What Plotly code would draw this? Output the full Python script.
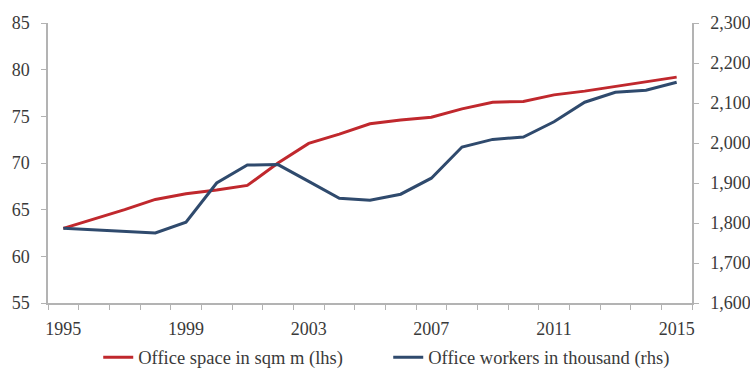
import plotly.graph_objects as go

years = list(range(1995, 2016))
office_space = [63.0, 64.0, 65.0, 66.1, 66.7, 67.1, 67.6, 70.0, 72.1, 73.1, 74.2, 74.6, 74.9,
                75.8, 76.5, 76.6, 77.3, 77.7, 78.2, 78.7, 79.2]
office_workers = [1787, 1783, 1779, 1775, 1802, 1900, 1945, 1946, 1904, 1862, 1857, 1872, 1912,
                  1990, 2009, 2015, 2053, 2102, 2127, 2132, 2152]
x_tick_labels = [1995, 1999, 2003, 2007, 2011, 2015]
boundaries = [y - 0.5 for y in range(1995, 2017)]

RED = "#C0282D"
BLUE = "#2F4A6D"
AXIS = "#B3B3B3"
TXT = "#3a3a3a"
FONT = "Liberation Serif"

fig = go.Figure()
fig.add_trace(go.Scatter(x=years, y=office_space, name="Office space in sqm m (lhs)",
                         mode="lines", line=dict(color=RED, width=3), yaxis="y"))
fig.add_trace(go.Scatter(x=years, y=office_workers, name="Office workers in thousand (rhs)",
                         mode="lines", line=dict(color=BLUE, width=3), yaxis="y2"))

fig.update_layout(
    width=750, height=371,
    margin=dict(l=48, r=58, t=23, b=68, autoexpand=False),
    paper_bgcolor="white", plot_bgcolor="white",
    font=dict(family=FONT, size=18, color=TXT),
    showlegend=True,
    legend=dict(orientation="h", x=0.078, xanchor="left", y=-0.195, yanchor="middle",
                font=dict(family=FONT, size=18.5, color=TXT),
                entrywidth=245, entrywidthmode="pixels", itemwidth=30,
                borderwidth=0, bgcolor="rgba(0,0,0,0)"),
    xaxis=dict(range=[1994.5, 2015.5], tickvals=x_tick_labels, ticktext=[str(v) for v in x_tick_labels],
               ticks="outside", ticklen=9, tickcolor="rgba(0,0,0,0)",
               showline=True, linecolor=AXIS, linewidth=1.5, showgrid=False, zeroline=False,
               minor=dict(tickvals=boundaries, ticks="outside", ticklen=5, tickcolor=AXIS, tickwidth=1),
               tickfont=dict(family=FONT, size=18, color=TXT)),
    yaxis=dict(range=[55, 85], dtick=5, tick0=55, ticks="outside", ticklen=5, tickcolor=AXIS,
               showline=True, linecolor=AXIS, linewidth=1.5, showgrid=False, zeroline=False,
               ticklabelstandoff=8, tickfont=dict(family=FONT, size=18, color=TXT)),
    yaxis2=dict(range=[1600, 2300], dtick=100, tick0=1600, overlaying="y", side="right",
                tickformat=",", ticks="outside", ticklen=5, tickcolor=AXIS,
                showline=True, linecolor=AXIS, linewidth=1.5, showgrid=False, zeroline=False,
                ticklabelstandoff=8, tickfont=dict(family=FONT, size=18, color=TXT)),
)

fig.write_html("out.html")
